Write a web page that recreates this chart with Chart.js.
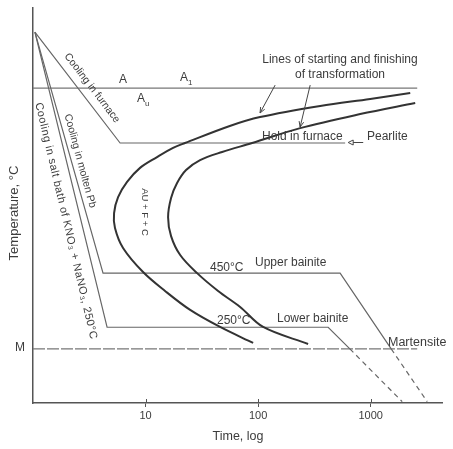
<!DOCTYPE html>
<html>
<head>
<meta charset="utf-8">
<title>Isothermal transformation of austenite</title>
<script src="https://cdn.jsdelivr.net/npm/chart.js@4.4.1/dist/chart.umd.min.js"></script>
<style>
  html, body { margin: 0; padding: 0; background: #fff; }
  .chart { width: 453px; height: 449px; position: relative; }
</style>
</head>
<body>
<div class="chart" role="img" aria-label="Isothermal transformation diagram with cooling paths">
  <canvas id="ttt"></canvas>
</div>
<script>
// time axis, log
const xTicks = [10, 100, 1000];
const xTickLabels = ['10', '100', '1000'];

// line of starting of transformation (outer C curve)
const startTime = [2245, 990, 356, 104, 56, 22.4, 17.55, 12.65, 8.93, 6.85, 5.70, 5.25, 5.35, 6.31, 9.5, 14.9, 24.9, 45.9, 90.3];
const startTemp = [1116, 1094, 1068, 1027, 994, 931, 913, 879, 839, 787, 731, 672, 617, 543, 454, 384, 314, 251, 192];

// line of finishing of transformation (inner C curve)
const finishTime = [2486, 807, 236, 88.5, 47.9, 30.5, 22.9, 19.05, 16.85, 15.85, 16.85, 20.3, 28.7, 44.1, 69.2, 110.8, 278];
const finishTemp = [1079, 1038, 986, 931, 898, 868, 831, 783, 728, 657, 587, 517, 450, 384, 325, 251, 188];

// cooling paths
const furnaceTime = [1.04, 5.94, 593];
const furnaceTemp = [1341, 931, 931];
const leadTime = [1.04, 4.19, 535, 1521, 3177];
const leadTemp = [1341, 450, 450, 170, -25];
const saltTime = [1.04, 4.55, 419, 653, 1905];
const saltTemp = [1341, 250, 250, 170, -25];

// A1 and M lines
const a1Time = [1, 2590];
const a1Temp = [1134, 1134];
const msTime = [1, 2590];
const msTemp = [170, 170];

// pointers [time, temp]
const pointerTail = [[141.6, 1145], [290, 1145]];
const pointerHead = [[104, 1042], [236, 990]];
const pearliteTail = [858, 931];
const pearliteHead = [631, 931];

const toPoints = (ts, vs) => ts.map((t, i) => ({ x: t, y: vs[i] }));

const FONT = '"Liberation Sans", Arial, sans-serif';
const TEXT = '#3c3c3c';

const dashLast = (n) => (ctx) => (ctx.p1DataIndex === n - 1 ? [5, 4] : undefined);

function label(ctx, str, x, y, size, angle = 0, align = 'center', spacing = '0px') {
  ctx.save();
  ctx.translate(x, y);
  ctx.rotate((angle * Math.PI) / 180);
  ctx.font = `${size}px ${FONT}`;
  ctx.letterSpacing = spacing;
  ctx.fillStyle = TEXT;
  ctx.textAlign = align;
  ctx.textBaseline = 'middle';
  ctx.fillText(str, 0, 0);
  ctx.restore();
}

function subLabel(ctx, base, sub, x, y) {
  ctx.save();
  ctx.font = `12px ${FONT}`;
  ctx.fillStyle = TEXT;
  ctx.textAlign = 'left';
  ctx.textBaseline = 'middle';
  const w = ctx.measureText(base).width;
  ctx.fillText(base, x - w / 2, y);
  ctx.font = `8px ${FONT}`;
  ctx.fillText(sub, x + w / 2, y + 5);
  ctx.restore();
}

const annotate = {
  id: 'annotate',
  afterDraw(chart) {
    const { ctx, chartArea, scales: { x, y } } = chart;

    // ticks poking into the plot
    ctx.save();
    ctx.strokeStyle = '#555';
    ctx.lineWidth = 1;
    xTicks.forEach((v) => {
      const px = Math.round(x.getPixelForValue(v)) + 0.5;
      ctx.beginPath();
      ctx.moveTo(px, chartArea.bottom - 4);
      ctx.lineTo(px, chartArea.bottom);
      ctx.stroke();
    });

    // pointers to the C curves
    ctx.strokeStyle = '#444';
    ctx.lineWidth = 1;
    pointerTail.forEach((p, i) => {
      const x0 = x.getPixelForValue(p[0]);
      const y0 = y.getPixelForValue(p[1]);
      const x1 = x.getPixelForValue(pointerHead[i][0]);
      const y1 = y.getPixelForValue(pointerHead[i][1]);
      const a = Math.atan2(y1 - y0, x1 - x0);
      ctx.beginPath();
      ctx.moveTo(x0, y0);
      ctx.lineTo(x1, y1);
      ctx.moveTo(x1 - 6 * Math.cos(a - 0.4), y1 - 6 * Math.sin(a - 0.4));
      ctx.lineTo(x1, y1);
      ctx.lineTo(x1 - 6 * Math.cos(a + 0.4), y1 - 6 * Math.sin(a + 0.4));
      ctx.stroke();
    });

    // pearlite pointer
    const hx = x.getPixelForValue(pearliteHead[0]);
    const tx = x.getPixelForValue(pearliteTail[0]);
    const py = y.getPixelForValue(pearliteHead[1]) - 0.5;
    ctx.beginPath();
    ctx.moveTo(hx + 5, py);
    ctx.lineTo(tx, py);
    ctx.moveTo(hx, py);
    ctx.lineTo(hx + 5, py - 2.5);
    ctx.lineTo(hx + 5, py + 2.5);
    ctx.closePath();
    ctx.stroke();
    ctx.restore();

    // texts
    subLabel(ctx, 'A', '', 123, 80);
    subLabel(ctx, 'A', '1', 184, 78);
    subLabel(ctx, 'A', 'u', 141, 99);
    label(ctx, 'Lines of starting and finishing', 340, 60, 12);
    label(ctx, 'of transformation', 340, 75, 12);
    label(ctx, 'Hold in furnace', 262, 137, 12, 0, 'left');
    label(ctx, 'Pearlite', 367, 137, 12, 0, 'left');
    label(ctx, 'Cooling in furnace', 92, 88, 10.5, 52.6);
    label(ctx, 'Cooling in molten Pb', 80, 161, 10.5, 74.8);
    label(ctx, 'Cooling in salt bath of KNO\u2083 + NaNO\u2083, 250°C', 66, 221, 11, 76.8, 'center', '0.5px');
    label(ctx, 'AU + F + C', 145, 212, 9.5, 90);
    label(ctx, '450°C', 210, 268, 12, 0, 'left');
    label(ctx, 'Upper bainite', 255, 263, 12, 0, 'left');
    label(ctx, '250°C', 217, 321, 12, 0, 'left');
    label(ctx, 'Lower bainite', 277, 319, 12, 0, 'left');
    label(ctx, 'Martensite', 388, 343, 12.5, 0, 'left');
    label(ctx, 'M', 20, 348, 12);
    label(ctx, 'Temperature, °C', 14, 213, 13, -90);
    label(ctx, 'Time, log', 238, 437, 12.5);
  },
};

const curve = { borderColor: '#333', borderWidth: 2, tension: 0.35 };
const path = { borderColor: '#666', borderWidth: 1.2, tension: 0 };

new Chart(document.getElementById('ttt'), {
  type: 'line',
  data: {
    datasets: [
      { ...curve, data: toPoints(startTime, startTemp) },
      { ...curve, data: toPoints(finishTime, finishTemp) },
      { ...path, data: toPoints(furnaceTime, furnaceTemp) },
      { ...path, data: toPoints(leadTime, leadTemp), segment: { borderDash: dashLast(leadTime.length) } },
      { ...path, data: toPoints(saltTime, saltTemp), segment: { borderDash: dashLast(saltTime.length) } },
      { ...path, borderColor: '#777', data: toPoints(a1Time, a1Temp) },
      { ...path, borderColor: '#777', borderDash: [12, 2], data: toPoints(msTime, msTemp) },
    ],
  },
  options: {
    responsive: true,
    maintainAspectRatio: false,
    animation: false,
    elements: { point: { radius: 0 } },
    layout: { padding: { top: 8, right: 11, left: 0, bottom: 0 } },
    plugins: {
      legend: { display: false },
      tooltip: { enabled: false },
    },
    scales: {
      x: {
        type: 'logarithmic',
        min: 1,
        max: 4300,
        afterBuildTicks: (scale) => {
          scale.ticks = xTicks.map((v) => ({ value: v }));
        },
        afterFit: (scale) => {
          scale.height = 46;
        },
        ticks: {
          autoSkip: false,
          maxRotation: 0,
          padding: 2,
          color: TEXT,
          font: { family: FONT, size: 11 },
          callback: (value, index) => xTickLabels[index],
        },
        grid: { display: true, drawOnChartArea: false, drawTicks: true, tickLength: 4, color: '#555' },
        border: { display: true, color: '#555', width: 1.5 },
      },
      y: {
        type: 'linear',
        min: -30,
        max: 1430,
        afterFit: (scale) => {
          scale.width = 33;
        },
        ticks: { display: false },
        grid: { display: false },
        border: { display: true, color: '#555', width: 1.5 },
      },
    },
  },
  plugins: [annotate],
});
</script>
</body>
</html>
